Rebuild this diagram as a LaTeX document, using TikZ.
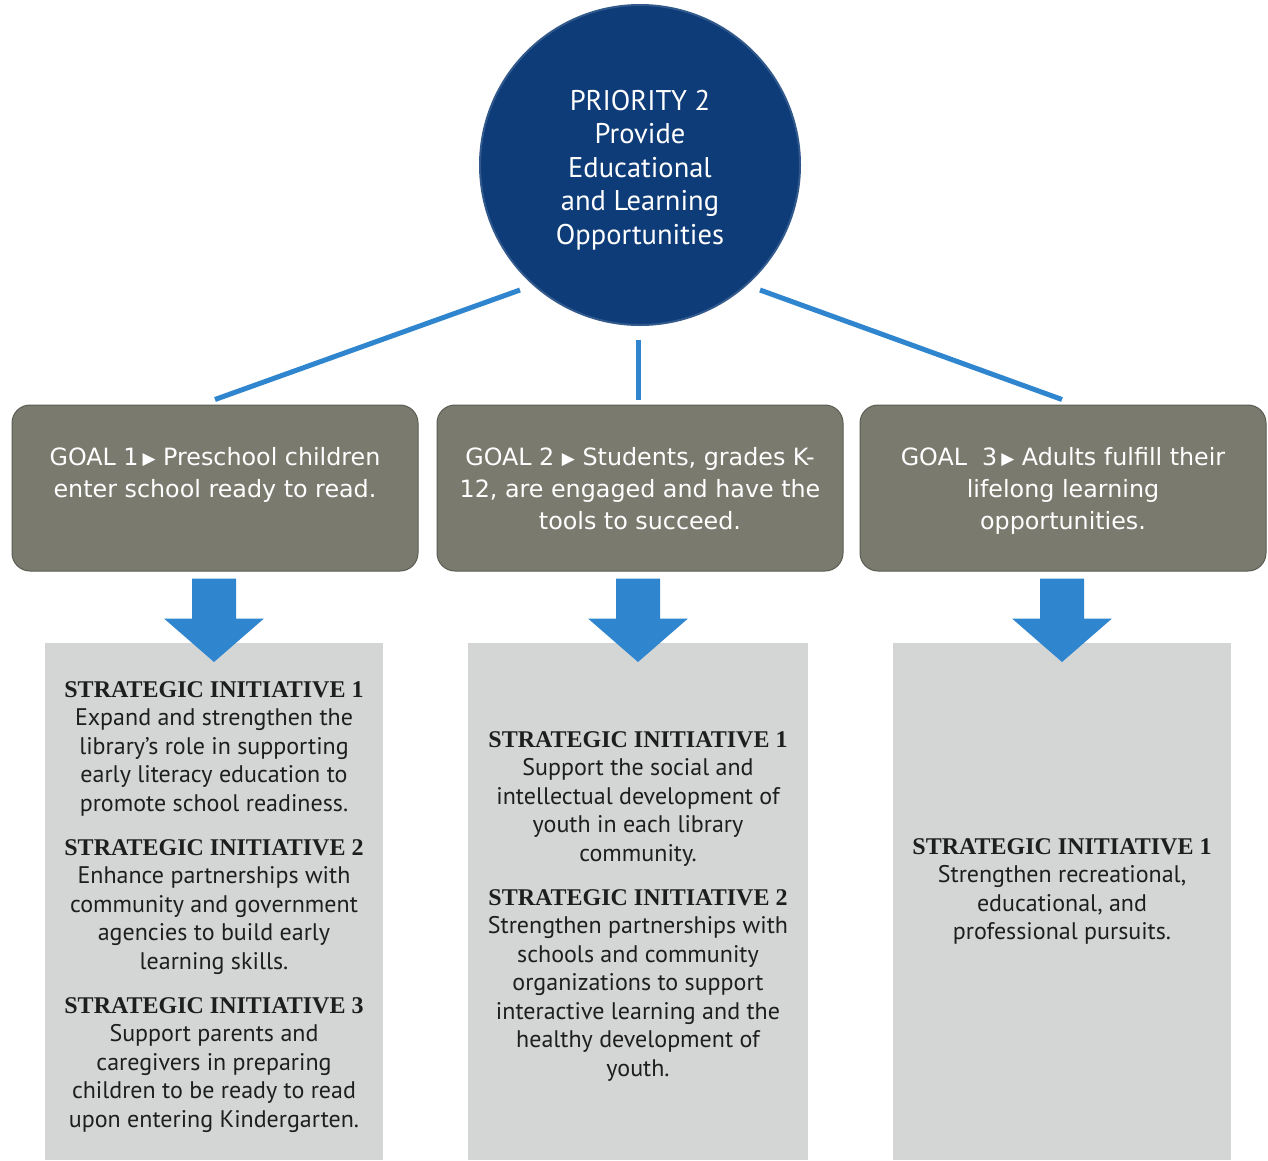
\documentclass[tikz,border=0pt]{standalone}
\usepackage{fontspec}
\setmainfont{PT Sans}
\newfontfamily\hdrfont{Liberation Serif}
\newfontfamily\symfont{DejaVu Sans}
\usetikzlibrary{calc}
\definecolor{navy}{RGB}{14,60,120}
\definecolor{linkblue}{RGB}{47,134,206}
\definecolor{goalgray}{RGB}{122,123,110}
\definecolor{initgray}{RGB}{212,214,214}
\definecolor{bodytext}{RGB}{30,30,30}
\newcommand{\tri}{{\symfont\fontsize{17}{17}\selectfont\raisebox{1pt}{▶}}}
\newcommand{\hdr}[1]{{\hdrfont\bfseries\fontsize{24}{28.5}\selectfont #1}}
\tikzset{
  prbox/.style={circle, fill=navy, draw=navy!85!white, line width=2pt, minimum size=320pt, inner sep=0},
  prtext/.style={text=white, align=center, inner sep=0, font=\fontsize{28.5}{33.5}\selectfont},
  link/.style={draw=linkblue, line width=5pt},
  goalbox/.style={draw=goalgray!75!black, line width=1pt, fill=goalgray, rounded corners=18pt, minimum width=406pt, minimum height=166pt, inner sep=0},
  goaltext/.style={text=white, align=center, inner sep=0, anchor=north, font=\symfont\fontsize{23.8}{32}\selectfont},
  initbox/.style={fill=initgray, minimum width=338pt, minimum height=517pt, inner sep=0, anchor=north},
  inittext/.style={text=bodytext, align=center, inner sep=0, anchor=north, font=\fontsize{24}{28.5}\selectfont},
  bigarrow/.style={fill=linkblue}
}
\begin{document}
\begin{tikzpicture}[x=1pt,y=1pt]
\useasboundingbox (0,0) rectangle (1268,-1160);
\fill[white] (0,0) rectangle (1268,-1160);

% priority circle
\node[prbox] (pri) at (640,-165) {};
\node[prtext] (prt) at (640,-170) {PRIORITY 2\\Provide\\Educational\\and Learning\\Opportunities};

% goal boxes
\node[goalbox] (g1) at (215,-488) {};
\node[goalbox] (g2) at (640,-488) {};
\node[goalbox] (g3) at (1063,-488) {};

\node[goaltext] (g1t) at ([yshift=-43pt]g1.north) {GOAL 1\,\tri\ Preschool children\\enter school ready to read.};
\node[goaltext] (g2t) at ([yshift=-43pt]g2.north) {GOAL 2 \tri\ Students, grades K-\\12, are engaged and have the\\tools to succeed.};
\node[goaltext] (g3t) at ([yshift=-43pt]g3.north) {GOAL\ \ 3\,\tri\ Adults fulfill their\\lifelong learning\\opportunities.};

% connectors
\draw[link] ($(pri.center)+(-120,-125)$) -- ([yshift=5pt]g1.north);
\draw[link] ($(pri.center)+(-2,-175)$) -- ([xshift=-2pt,yshift=5pt]g2.north);
\draw[link] ($(pri.center)+(120,-125)$) -- ([xshift=-1pt,yshift=5pt]g3.north);

% initiative boxes
\node[initbox] (i1) at (214,-643) {};
\node[initbox, minimum width=340pt] (i2) at (638,-643) {};
\node[initbox] (i3) at (1062,-643) {};

% big arrows
\foreach \g/\i in {g1/i1,g2/i2,g3/i3}{
  \fill[bigarrow] ($(\g.south -| \i.north)+(-22,-7)$) -- ++(44,0) -- ++(0,-40) -- ++(28,0)
     -- ($(\i.north)+(0,-19)$) -- ($(\g.south -| \i.north)+(-50,-47)$) -- ++(28,0) -- cycle;
}

% initiative texts
\node[inittext] (i1a) at (214,-681) {\hdr{STRATEGIC INITIATIVE 1}\\Expand and strengthen the\\library's role in supporting\\early literacy education to\\promote school readiness.};
\node[inittext] (i1b) at (214,-839) {\hdr{STRATEGIC INITIATIVE 2}\\Enhance partnerships with\\community and government\\agencies to build early\\learning skills.};
\node[inittext] (i1c) at (214,-997) {\hdr{STRATEGIC INITIATIVE 3}\\Support parents and\\caregivers in preparing\\children to be ready to read\\upon entering Kindergarten.};

\node[inittext] (i2a) at (638,-731) {\hdr{STRATEGIC INITIATIVE 1}\\Support the social and\\intellectual development of\\youth in each library\\community.};
\node[inittext] (i2b) at (638,-889) {\hdr{STRATEGIC INITIATIVE 2}\\Strengthen partnerships with\\schools and community\\organizations to support\\interactive learning and the\\healthy development of\\youth.};

\node[inittext] (i3a) at (1062,-838) {\hdr{STRATEGIC INITIATIVE 1}\\Strengthen recreational,\\educational, and\\professional pursuits.};
\end{tikzpicture}
\end{document}
